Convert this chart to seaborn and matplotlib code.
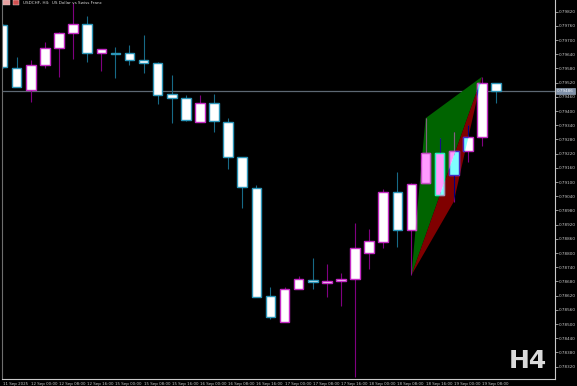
import numpy as np
import pandas as pd
import seaborn as sns
import matplotlib
matplotlib.use("Agg")
import matplotlib.pyplot as plt
from matplotlib.patches import Polygon, Rectangle
from matplotlib.transforms import blended_transform_factory

# ---------------- data ----------------
opens = [0.79764, 0.79581, 0.79489, 0.79595, 0.79665, 0.79729, 0.79768, 0.79647, 0.79644, 0.79644,
         0.79615, 0.79602, 0.79471, 0.79454, 0.79353, 0.79436, 0.79355, 0.79207, 0.79076, 0.78617,
         0.78509, 0.78650, 0.78688, 0.78675, 0.78681, 0.78689, 0.78799, 0.78848, 0.79059, 0.78896,
         0.79095, 0.79224, 0.79130, 0.79231, 0.79289, 0.79517]
highs = [0.79768, 0.79630, 0.79616, 0.79693, 0.79733, 0.79855, 0.79803, 0.79662, 0.79670, 0.79679,
         0.79722, 0.79609, 0.79553, 0.79468, 0.79468, 0.79471, 0.79370, 0.79207, 0.79088, 0.78656,
         0.78656, 0.78703, 0.78781, 0.78754, 0.78715, 0.78926, 0.78901, 0.79071, 0.79141, 0.79096,
         0.79370, 0.79285, 0.79310, 0.79341, 0.79545, 0.79517]
lows = [0.79582, 0.79500, 0.79440, 0.79581, 0.79543, 0.79619, 0.79609, 0.79569, 0.79541, 0.79595,
        0.79562, 0.79430, 0.79351, 0.79360, 0.79353, 0.79313, 0.79155, 0.78992, 0.78613, 0.78520,
        0.78508, 0.78650, 0.78648, 0.78616, 0.78576, 0.78278, 0.78734, 0.78823, 0.78827, 0.78707,
        0.79095, 0.79046, 0.79017, 0.79186, 0.79253, 0.79433]
closes = [0.79585, 0.79503, 0.79595, 0.79665, 0.79729, 0.79768, 0.79647, 0.79661, 0.79642, 0.79615,
          0.79602, 0.79468, 0.79457, 0.79361, 0.79436, 0.79358, 0.79207, 0.79078, 0.78616, 0.78529,
          0.78650, 0.78689, 0.78679, 0.78682, 0.78689, 0.78822, 0.78850, 0.79059, 0.78899, 0.79094,
          0.79224, 0.79046, 0.79231, 0.79289, 0.79517, 0.79486]

date_tick_bars = list(range(0, 36, 2))
date_labels = ["11 Sep 2025", "12 Sep 00:00", "12 Sep 08:00", "12 Sep 16:00", "15 Sep 00:00",
               "15 Sep 08:00", "15 Sep 16:00", "16 Sep 00:00", "16 Sep 08:00", "16 Sep 16:00",
               "17 Sep 00:00", "17 Sep 08:00", "17 Sep 16:00", "18 Sep 00:00", "18 Sep 08:00",
               "18 Sep 16:00", "19 Sep 00:00", "19 Sep 08:00"]

price_ticks = [round(0.79820 - 0.0006 * k, 5) for k in range(26)]
current_price = 0.79486

# harmonic pattern points (bar index, price)
pattern_bars = [29, 30, 32, 34]          # X, A, B, D
pattern_prices = [0.78707, 0.79370, 0.79017, 0.79545]

title_text = "USDCHF, H4:  US Dollar vs Swiss Franc"
timeframe_text = "H4"

# ---------------- style ----------------
sns.set_theme(style="dark", rc={
    "figure.facecolor": "black",
    "axes.facecolor": "black",
    "axes.edgecolor": "#c8c8c8",
    "axes.grid": False,
    "xtick.color": "#c8c8c8",
    "ytick.color": "#c8c8c8",
    "text.color": "#d0d0d0",
})
plt.rcParams["font.family"] = ["DejaVu Sans"]

W, H = 577, 386
fig = plt.figure(figsize=(W / 100, H / 100), dpi=100)
ax = fig.add_axes([2 / W, 7 / H, 553 / W, 379 / H])

df = pd.DataFrame({"o": opens, "h": highs, "l": lows, "c": closes})
df["x"] = np.arange(len(df))
df["bull"] = df["c"] >= df["o"]
df["bottom"] = df[["o", "c"]].min(axis=1)
df["height"] = (df["c"] - df["o"]).abs()

BULL_EDGE, BEAR_EDGE = "#c42ac4", "#2b95b8"
BULL_WICK, BEAR_WICK = "#800080", "#176a86"
BODY = "#ffffff"
GREEN, RED = "#006400", "#800000"


def hx(c):
    c = c.lstrip("#")
    return [int(c[i:i + 2], 16) for i in (0, 2, 4)]


def xor(c1, c2):
    a, b = hx(c1), hx(c2)
    return "#" + "".join(f"{x ^ y:02x}" for x, y in zip(a, b))


# pattern triangles
X, A, B, D = list(zip(pattern_bars, pattern_prices))
tri_green = Polygon([X, A, D], closed=True, facecolor=GREEN, edgecolor="none", zorder=1)
tri_red = Polygon([X, B, D], closed=True, facecolor=RED, edgecolor="none", zorder=1)
ax.add_patch(tri_green)
ax.add_patch(tri_red)

# current price line
ax.axhline(current_price, color="#5d6873", lw=0.9, zorder=0.5)

BW = 0.68


def draw_candles(sub, fill, edge_bull, edge_bear, wick_bull, wick_bear, z, clip=None):
    for bull, g in sub.groupby("bull"):
        wc = wick_bull if bull else wick_bear
        ec = edge_bull if bull else edge_bear
        lc = ax.vlines(g["x"], g["l"], g["h"], colors=wc, lw=0.8, zorder=z)
        bars = ax.bar(g["x"], g["height"], bottom=g["bottom"], width=BW,
                      color=fill, edgecolor=ec, linewidth=1.0, zorder=z + 0.1)
        if clip is not None:
            lc.set_clip_path(clip)
            for r in bars:
                r.set_clip_path(clip)


draw_candles(df, BODY, BULL_EDGE, BEAR_EDGE, BULL_WICK, BEAR_WICK, 2)
# XOR look of MetaTrader filled objects over candles
sub = df[(df["x"] >= pattern_bars[0] - 1) & (df["x"] <= pattern_bars[-1] + 1)]
for tri, col in ((tri_green, GREEN), (tri_red, RED)):
    draw_candles(sub, xor(BODY, col), xor(BULL_EDGE, col), xor(BEAR_EDGE, col),
                 xor(BULL_WICK, col), xor(BEAR_WICK, col), 3, clip=tri)

ax.set_xlim(-0.043, 39.18)
ax.set_ylim(0.782680, 0.798694)

# axes / ticks
ax.spines["top"].set_visible(False)
ax.spines["left"].set_color("#6e6e6e")
ax.spines["left"].set_linewidth(0.8)
for s in ("right", "bottom"):
    ax.spines[s].set_color("#c8c8c8")
    ax.spines[s].set_linewidth(0.8)

ax.yaxis.tick_right()
ax.set_yticks(price_ticks)
ax.set_yticklabels([f"{p:.5f}" for p in price_ticks])
ax.tick_params(axis="y", direction="out", length=2, width=0.5, labelsize=3, pad=1,
               colors="#c8c8c8")
ax.set_xticks(date_tick_bars)
ax.set_xticklabels(date_labels)
ax.tick_params(axis="x", direction="out", length=1.5, width=0.5, labelsize=2.9, pad=0.3,
               colors="#c8c8c8")
for t in ax.get_xticklabels():
    t.set_horizontalalignment("left")
ax.set_xlabel("")
ax.set_ylabel("")

# current price label on the price scale
trans = blended_transform_factory(ax.transAxes, ax.transData)
ax.text(1.004, current_price, f"{current_price:.5f}", transform=trans, fontsize=3,
        color="#f0f4f8", va="center", ha="left", clip_on=False, zorder=10,
        bbox=dict(facecolor="#7f90a8", edgecolor="#a8b8cc", linewidth=0.4, pad=0.8))

# title and icons
fig.add_artist(Rectangle((3 / W, 1 - 5 / H), 7 / W, 5 / H, transform=fig.transFigure,
                         facecolor="#e8a0a0", edgecolor="#d0d0d0", lw=0.3))
fig.add_artist(Rectangle((13 / W, 1 - 5 / H), 6 / W, 5 / H, transform=fig.transFigure,
                         facecolor="#d05050", edgecolor="#e0e0e0", lw=0.3))
fig.text(23 / W, 1 - 3.5 / H, title_text, fontsize=3, color="#d8d8d8", va="center", ha="left")

# timeframe watermark
fig.text(527.5 / W, 18 / H, timeframe_text, fontsize=18, fontweight="bold",
         color="#dadada", ha="center", va="baseline")

fig.savefig("out.png", dpi=100, facecolor="black")
